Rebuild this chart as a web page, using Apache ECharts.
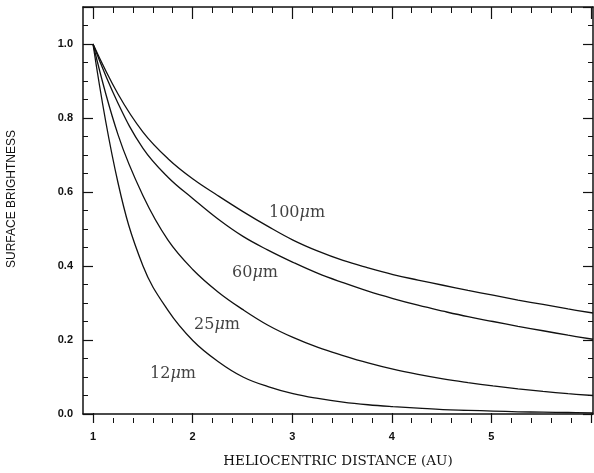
<!DOCTYPE html>
<html>
<head>
<meta charset="utf-8">
<script src="https://cdn.jsdelivr.net/npm/echarts@6/dist/echarts.min.js"></script>
<style>
  html, body { margin: 0; padding: 0; background: #fff; }
  #chart { width: 594px; height: 473px; }
</style>
</head>
<body>
<div id="chart"></div>
<script>
// heliocentric distance (AU) where the curves were read
const distance = [1, 1.25, 1.5, 1.75, 2, 2.25, 2.5, 2.75, 3, 3.25, 3.5, 3.75, 4, 4.25, 4.5, 4.75, 5, 5.25, 5.5, 5.75, 6];

// surface brightness, normalised at 1 AU
const sb100 = [1.0, 0.865, 0.762, 0.69, 0.635, 0.59, 0.547, 0.507, 0.47, 0.44, 0.415, 0.395, 0.377, 0.362, 0.348, 0.334, 0.321, 0.308, 0.296, 0.284, 0.273];
const sb60  = [1.0, 0.84, 0.718, 0.64, 0.582, 0.527, 0.48, 0.443, 0.41, 0.38, 0.355, 0.332, 0.312, 0.294, 0.278, 0.263, 0.25, 0.237, 0.225, 0.213, 0.202];
const sb25  = [1.0, 0.755, 0.59, 0.47, 0.39, 0.33, 0.282, 0.24, 0.207, 0.18, 0.158, 0.138, 0.121, 0.107, 0.095, 0.085, 0.076, 0.068, 0.061, 0.055, 0.05];
const sb12  = [1.0, 0.625, 0.40, 0.28, 0.198, 0.142, 0.10, 0.074, 0.055, 0.042, 0.032, 0.025, 0.02, 0.016, 0.012, 0.01, 0.008, 0.006, 0.005, 0.004, 0.003];

// curve labels (placed in data units)
const labelText = ['100{mu|μ}m', '60{mu|μ}m', '25{mu|μ}m', '12{mu|μ}m'];
const labelX = [3.04, 2.62, 2.24, 1.80];
const labelY = [0.543, 0.381, 0.241, 0.109];

const ink = '#111';

function curve(name, values) {
    return {
        name: name,
        type: 'line',
        xAxisIndex: 0,
        yAxisIndex: 0,
        data: distance.map((d, i) => [d, values[i]]),
        smooth: 0.4,
        symbol: 'none',
        lineStyle: { color: ink, width: 1.3 },
        silent: true
    };
}

// 刻度轴（只画刻度）
function tickAxis(pos, gridIndex, extra) {
    return Object.assign({
        type: 'value',
        gridIndex: gridIndex,
        position: pos,
        axisLine: { show: false },
        axisTick: { show: true, inside: true, length: 10, lineStyle: { color: ink, width: 1.2 } },
        axisLabel: { show: false },
        splitLine: { show: false }
    }, extra);
}

const chart = echarts.init(document.getElementById('chart'));

chart.setOption({
    animation: false,
    backgroundColor: '#fff',
    grid: [
        { left: 83, right: 1, top: 7, bottom: 50 },
        { left: 93, right: 1, top: 7, bottom: 50 }
    ],
    graphic: [
        {
            type: 'text',
            left: 6,
            top: 130,
            rotation: Math.PI / 2,
            style: {
                text: 'SURFACE BRIGHTNESS',
                fill: ink,
                font: '12px "Liberation Sans"'
            }
        }
    ],
    xAxis: [
        {
            type: 'value', gridIndex: 0, position: 'bottom', min: 0.9, max: 6,
            axisLine: { show: true, lineStyle: { color: ink, width: 1.5 } },
            axisTick: { show: false }, axisLabel: { show: false }, splitLine: { show: false },
            name: 'HELIOCENTRIC DISTANCE (AU)',
            nameLocation: 'middle',
            nameGap: 40,
            nameTextStyle: { fontFamily: 'DejaVu Serif', fontSize: 13.5, color: ink }
        },
        {
            type: 'value', gridIndex: 0, position: 'top', min: 0.9, max: 6,
            axisLine: { show: true, onZero: false, lineStyle: { color: ink, width: 1.5 } },
            axisTick: { show: false }, axisLabel: { show: false }, splitLine: { show: false }
        },
        tickAxis('bottom', 1, {
            min: 1, max: 6, interval: 1,
            minorTick: { show: true, splitNumber: 5, length: 5, lineStyle: { color: ink, width: 1 } },
            axisLabel: {
                show: true, margin: 8, color: ink,
                fontFamily: 'Liberation Sans', fontWeight: 'bold', fontSize: 11,
                formatter: v => (v >= 6 ? '' : String(v))
            }
        }),
        tickAxis('top', 1, {
            min: 1, max: 6, interval: 1,
            axisTick: { show: true, inside: true, length: 12, lineStyle: { color: ink, width: 1.2 } },
            minorTick: { show: true, splitNumber: 5, length: 6, lineStyle: { color: ink, width: 1 } }
        })
    ],
    yAxis: [
        {
            type: 'value', gridIndex: 0, position: 'left', min: 0, max: 1.1, interval: 0.2,
            axisLine: { show: true, lineStyle: { color: ink, width: 1.5 } },
            axisTick: { show: true, inside: true, length: 10, lineStyle: { color: ink, width: 1.2 } },
            axisLabel: {
                color: ink, margin: 10,
                fontFamily: 'Liberation Sans', fontWeight: 'bold', fontSize: 11,
                formatter: v => (v > 1.05 ? '' : v.toFixed(1))
            },
            splitLine: { show: false }
        },
        tickAxis('left', 0, {
            min: 0, max: 1.1, interval: 0.05,
            axisTick: { show: true, inside: true, length: 5, lineStyle: { color: ink, width: 1 } }
        }),
        {
            type: 'value', gridIndex: 0, position: 'right', min: 0, max: 1.1, interval: 0.2,
            axisLine: { show: true, lineStyle: { color: ink, width: 1.5 } },
            axisTick: { show: true, inside: true, length: 10, lineStyle: { color: ink, width: 1.2 } },
            axisLabel: { show: false },
            splitLine: { show: false }
        },
        tickAxis('right', 0, {
            min: 0, max: 1.1, interval: 0.05,
            axisTick: { show: true, inside: true, length: 5, lineStyle: { color: ink, width: 1 } }
        }),
        { type: 'value', gridIndex: 1, min: 0, max: 1.1, show: false }
    ],
    series: [
        curve('100μm', sb100),
        curve('60μm', sb60),
        curve('25μm', sb25),
        curve('12μm', sb12),
        {
            name: 'labels',
            type: 'scatter',
            xAxisIndex: 0,
            yAxisIndex: 0,
            symbolSize: 0,
            silent: true,
            data: labelX.map((x, i) => [x, labelY[i], labelText[i]]),
            label: {
                show: true,
                position: 'inside',
                formatter: p => p.data[2],
                fontFamily: 'DejaVu Serif',
                fontSize: 16,
                color: ink,
                rich: {
                    mu: { fontFamily: 'DejaVu Serif', fontStyle: 'italic', fontSize: 16, color: ink }
                }
            }
        }
    ]
});
</script>
</body>
</html>
